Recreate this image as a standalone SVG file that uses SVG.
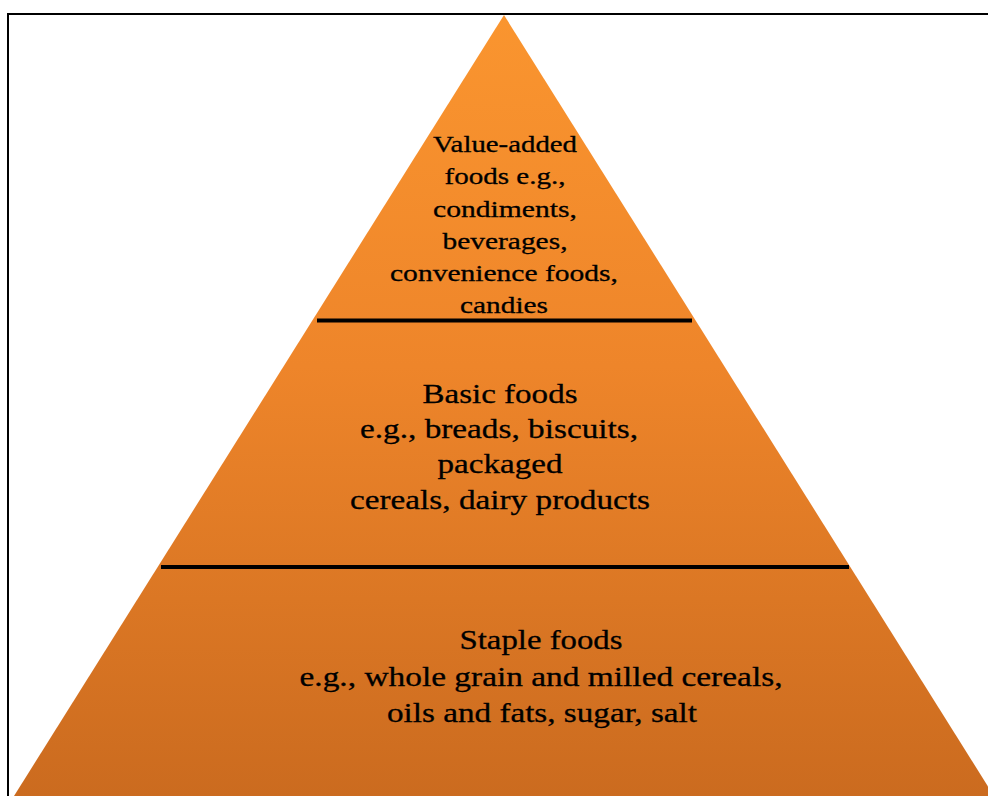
<svg xmlns="http://www.w3.org/2000/svg" width="988" height="796" viewBox="0 0 988 796">
  <defs>
    <linearGradient id="pyr" gradientUnits="userSpaceOnUse" x1="0" y1="15" x2="0" y2="796">
      <stop offset="0" stop-color="#FA952F"/>
      <stop offset="0.45" stop-color="#EE852A"/>
      <stop offset="1" stop-color="#CB6B1F"/>
    </linearGradient>
    <filter id="sh" x="-5%" y="-200%" width="110%" height="500%">
      <feGaussianBlur stdDeviation="1.2"/>
    </filter>
  </defs>
  <style>
    .t { font-family: "Liberation Serif", "Times New Roman", serif; fill: #000; stroke: #000; stroke-width: 0.3px; text-anchor: middle; }
    .top { font-size: 24px; }
    .mid { font-size: 28px; }
    .bot { font-size: 28px; }
    .div { stroke: #000; stroke-width: 4; }
    .divsh { stroke: #000; stroke-width: 3; opacity: 0.35; filter: url(#sh); }
  </style>
  <rect width="988" height="796" fill="#fff"/>
  <rect x="8" y="14" width="1000" height="800" fill="none" stroke="#000" stroke-width="2"/>
  <g id="pyramid">
    <polygon points="504,15 994,796 14,796" fill="url(#pyr)"/>
  </g>
  <g id="tier-value-added">
    <text class="t top" x="505" y="152" textLength="144" lengthAdjust="spacingAndGlyphs">Value-added</text>
    <text class="t top" x="505" y="184" textLength="121" lengthAdjust="spacingAndGlyphs">foods e.g.,</text>
    <text class="t top" x="505" y="217" textLength="144" lengthAdjust="spacingAndGlyphs">condiments,</text>
    <text class="t top" x="505" y="249" textLength="125" lengthAdjust="spacingAndGlyphs">beverages,</text>
    <text class="t top" x="504" y="281" textLength="228" lengthAdjust="spacingAndGlyphs">convenience foods,</text>
    <text class="t top" x="504" y="313" textLength="88" lengthAdjust="spacingAndGlyphs">candies</text>
  </g>
  <g id="divider-1">
    <line class="divsh" x1="318" y1="323.5" x2="692" y2="323.5"/>
    <line class="div" x1="317" y1="320.5" x2="692" y2="320.5"/>
  </g>
  <g id="tier-basic">
    <text class="t mid" x="500" y="403" textLength="155" lengthAdjust="spacingAndGlyphs">Basic foods</text>
    <text class="t mid" x="499" y="438" textLength="278" lengthAdjust="spacingAndGlyphs">e.g., breads, biscuits,</text>
    <text class="t mid" x="500" y="473" textLength="125" lengthAdjust="spacingAndGlyphs">packaged</text>
    <text class="t mid" x="500" y="509" textLength="300" lengthAdjust="spacingAndGlyphs">cereals, dairy products</text>
  </g>
  <g id="divider-2">
    <line class="divsh" x1="162" y1="570" x2="848" y2="570"/>
    <line class="div" x1="161" y1="567" x2="849" y2="567"/>
  </g>
  <g id="tier-staple">
    <text class="t bot" x="541" y="649" textLength="163" lengthAdjust="spacingAndGlyphs">Staple foods</text>
    <text class="t bot" x="541" y="686" textLength="483" lengthAdjust="spacingAndGlyphs">e.g., whole grain and milled cereals,</text>
    <text class="t bot" x="542" y="722" textLength="310" lengthAdjust="spacingAndGlyphs">oils and fats, sugar, salt</text>
  </g>
</svg>
